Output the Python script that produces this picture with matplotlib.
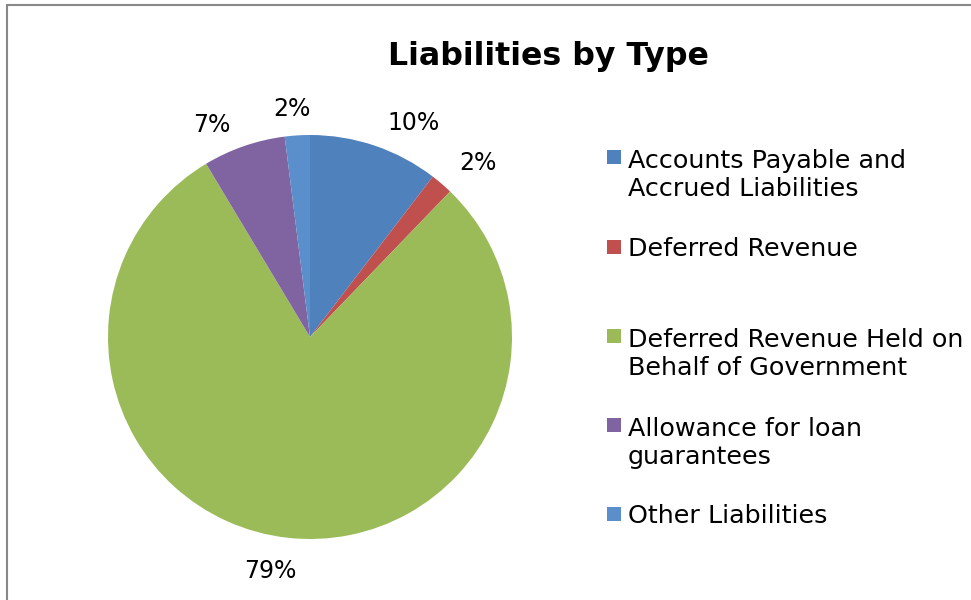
import matplotlib
matplotlib.use("Agg")
import matplotlib.pyplot as plt
from matplotlib.patches import Rectangle

# Data
categories = ["Accounts Payable and\nAccrued Liabilities",
              "Deferred Revenue",
              "Deferred Revenue Held on\nBehalf of Government",
              "Allowance for loan\nguarantees",
              "Other Liabilities"]
shares = [10.4, 1.8, 79.2, 6.6, 2.0]
colors = ["#4F81BD", "#C0504D", "#9BBB59", "#8064A2", "#5A8FCB"]
# Excel "best fit" label nudges (px, right/down) from the radial spot
label_nudge = [(28, 10), (14, 5), (-13, -1), (-21, 11), (-3, 8)]

W, H = 971, 600
fig = plt.figure(figsize=(W / 100, H / 100), dpi=100)

# pie centred at (310, 337) px with radius 202 px
cx, cy, r = 310, 337, 202
ax = fig.add_axes([(cx - r) / W, (H - cy - r) / H, 2 * r / W, 2 * r / H])
wedges, texts, autotexts = ax.pie(shares, colors=colors, startangle=90, counterclock=False,
                                  autopct="%1.0f%%", pctdistance=1.17,
                                  wedgeprops=dict(linewidth=0),
                                  textprops=dict(fontsize=17, color="black"))
ax.set_xlim(-1, 1)
ax.set_ylim(-1, 1)
ax.set_aspect("equal")
for t, (dx, dy) in zip(autotexts, label_nudge):
    t.set_position(t.get_position())
    t.set_transform(t.get_transform() +
                    matplotlib.transforms.ScaledTranslation(dx / 100, -dy / 100, fig.dpi_scale_trans))

# title
fig.text(548 / W, 1 - 57 / H, "Liabilities by Type", ha="center", va="center",
         fontsize=22.8, fontweight="bold")

# legend drawn by hand, Excel style
baselines = [166, 256, 345, 434, 523]
line_gap = 30
for lab, col, yb in zip(categories, colors, baselines):
    n = lab.count("\n")
    fig.patches.append(Rectangle((607 / W, 1 - (yb - 2) / H), 14 / W, 14 / H,
                                 transform=fig.transFigure, facecolor=col, edgecolor="none"))
    fig.text(628 / W, 1 - (yb + n * line_gap) / H, lab, ha="left", va="baseline",
             fontsize=18.3, linespacing=1.22)

# chart-area border (left and top visible)
fig.patches.append(Rectangle((6.5 / W, -0.1), 1.2, 1.1 - 5 / H, transform=fig.transFigure,
                             facecolor="none", edgecolor="#888888", linewidth=1.5))

fig.savefig("out.png", dpi=100)
